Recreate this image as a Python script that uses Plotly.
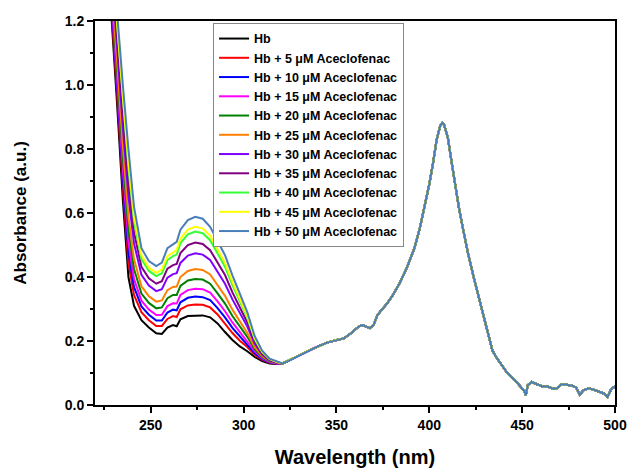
import plotly.graph_objects as go

# Wavelength grid (nm) for the region where the curves differ
wl_front = [222, 226, 229, 232, 235, 238, 241, 245, 249, 253, 256, 259, 262, 264,
            266, 270, 274, 278, 282, 286, 290, 294, 298, 302, 306, 310, 314, 318]

hb      = [1.75, 1.45, 1.20, 0.93, 0.64, 0.40, 0.31, 0.265, 0.242, 0.224, 0.222, 0.242, 0.25, 0.246,
           0.268, 0.278, 0.280, 0.280, 0.274, 0.255, 0.228, 0.203, 0.183, 0.168, 0.150, 0.137, 0.130, 0.128]
ace_5   = [1.772, 1.472, 1.224, 0.962, 0.680, 0.444, 0.344, 0.290, 0.265, 0.247, 0.247, 0.269, 0.278, 0.275,
           0.299, 0.311, 0.314, 0.313, 0.305, 0.283, 0.254, 0.225, 0.201, 0.181, 0.157, 0.141, 0.132, 0.129]
ace_10  = [1.788, 1.488, 1.242, 0.985, 0.708, 0.476, 0.369, 0.308, 0.282, 0.264, 0.264, 0.289, 0.298, 0.296,
           0.321, 0.335, 0.339, 0.337, 0.328, 0.303, 0.274, 0.241, 0.215, 0.191, 0.162, 0.143, 0.133, 0.129]
ace_15  = [1.804, 1.504, 1.259, 1.008, 0.737, 0.508, 0.394, 0.326, 0.298, 0.281, 0.282, 0.309, 0.318, 0.317,
           0.344, 0.359, 0.363, 0.362, 0.351, 0.324, 0.293, 0.258, 0.228, 0.201, 0.168, 0.146, 0.134, 0.130]
ace_20  = [1.824, 1.524, 1.281, 1.037, 0.773, 0.548, 0.425, 0.348, 0.319, 0.302, 0.305, 0.334, 0.344, 0.344,
           0.372, 0.389, 0.394, 0.392, 0.379, 0.349, 0.317, 0.278, 0.245, 0.213, 0.174, 0.149, 0.136, 0.131]
ace_25  = [1.844, 1.544, 1.303, 1.066, 0.809, 0.588, 0.456, 0.371, 0.340, 0.323, 0.327, 0.359, 0.369, 0.370,
           0.400, 0.419, 0.425, 0.422, 0.408, 0.375, 0.341, 0.298, 0.261, 0.225, 0.181, 0.153, 0.137, 0.131]
ace_30  = [1.876, 1.576, 1.339, 1.113, 0.867, 0.652, 0.505, 0.407, 0.373, 0.356, 0.362, 0.398, 0.409, 0.412,
           0.444, 0.467, 0.474, 0.470, 0.453, 0.416, 0.379, 0.330, 0.288, 0.245, 0.191, 0.158, 0.139, 0.132]
ace_35  = [1.898, 1.598, 1.363, 1.145, 0.906, 0.696, 0.539, 0.432, 0.396, 0.379, 0.387, 0.426, 0.437, 0.441,
           0.475, 0.500, 0.508, 0.503, 0.484, 0.444, 0.406, 0.352, 0.307, 0.258, 0.198, 0.161, 0.141, 0.133]
ace_40  = [1.920, 1.620, 1.387, 1.177, 0.946, 0.740, 0.574, 0.456, 0.419, 0.403, 0.412, 0.453, 0.465, 0.470,
           0.506, 0.533, 0.542, 0.537, 0.515, 0.472, 0.432, 0.375, 0.325, 0.272, 0.205, 0.165, 0.143, 0.134]
ace_45  = [1.930, 1.630, 1.398, 1.191, 0.964, 0.760, 0.589, 0.468, 0.429, 0.413, 0.423, 0.465, 0.478, 0.484,
           0.520, 0.548, 0.557, 0.552, 0.529, 0.485, 0.444, 0.385, 0.333, 0.278, 0.209, 0.167, 0.144, 0.134]
ace_50  = [1.95, 1.65, 1.42, 1.22, 1.00, 0.80, 0.62, 0.49, 0.45, 0.434, 0.445, 0.49, 0.503, 0.51,
           0.548, 0.578, 0.588, 0.582, 0.557, 0.51, 0.468, 0.405, 0.35, 0.29, 0.215, 0.17, 0.145, 0.135]

# Region where all spectra overlap (Soret band and beyond)
wl_tail = [321, 325, 330, 335, 340, 345, 350, 354, 358, 362, 364, 366, 368, 370,
           372, 374, 377, 380, 384, 388, 392, 395, 398, 400, 402, 404, 406, 407,
           408, 410, 412, 414, 416, 418, 421, 424, 427, 430, 432, 434, 436, 439,
           442, 446, 449, 451, 452, 453, 455, 458, 461, 464, 467, 469, 471, 474,
           477, 479, 481, 483, 486, 489, 492, 494, 496, 498, 500]
abs_tail = [0.13, 0.14, 0.155, 0.17, 0.183, 0.195, 0.203, 0.208, 0.225, 0.245, 0.25, 0.246, 0.24, 0.25,
            0.28, 0.295, 0.315, 0.34, 0.38, 0.43, 0.49, 0.555, 0.63, 0.69, 0.755, 0.83, 0.875, 0.882,
            0.875, 0.835, 0.76, 0.68, 0.615, 0.555, 0.47, 0.397, 0.33, 0.265, 0.215, 0.17, 0.15, 0.125,
            0.10, 0.078, 0.06, 0.045, 0.03, 0.062, 0.072, 0.064, 0.058, 0.057, 0.05, 0.053, 0.065, 0.063,
            0.06, 0.055, 0.032, 0.046, 0.052, 0.047, 0.04, 0.036, 0.025, 0.05, 0.058]

names = ["Hb"] + [f"Hb + {c} μM Aceclofenac" for c in [5, 10, 15, 20, 25, 30, 35, 40, 45, 50]]
series = [hb, ace_5, ace_10, ace_15, ace_20, ace_25, ace_30, ace_35, ace_40, ace_45, ace_50]
colors = ["#000000", "#FF0000", "#0000FF", "#FF00FF", "#008000", "#FF8000",
          "#8000FF", "#800080", "#33FF33", "#FFFF00", "#4A7EBB"]

font_family = "Liberation Sans, Arial, sans-serif"

fig = go.Figure()
for name, vals, col in zip(names, series, colors):
    fig.add_trace(go.Scatter(x=wl_front + wl_tail, y=vals + abs_tail, mode="lines",
                             name=name, line=dict(color=col, width=2)))

axis_common = dict(showline=True, linecolor="black", linewidth=2, mirror=True,
                   ticks="outside", tickwidth=2, ticklen=6, tickcolor="black",
                   showgrid=False, zeroline=False, automargin=False,
                   tickfont=dict(family=font_family, size=14, color="black", weight="bold"))

fig.update_xaxes(range=[220, 500], dtick=50, tick0=250,
                 minor=dict(ticks="outside", ticklen=3, tickwidth=2, tickcolor="black", dtick=25, tick0=225),
                 title=dict(text="Wavelength (nm)", standoff=18,
                            font=dict(family=font_family, size=20, color="black", weight="bold")),
                 **axis_common)
fig.update_yaxes(range=[0, 1.2], dtick=0.2, tickformat=".1f",
                 minor=dict(ticks="outside", ticklen=3, tickwidth=2, tickcolor="black", dtick=0.1),
                 title=dict(text="Absorbance (a.u.)", standoff=34,
                            font=dict(family=font_family, size=17, color="black", weight="bold")),
                 **axis_common)

fig.update_layout(
    width=629, height=469,
    margin=dict(l=95, r=14, t=21, b=64),
    plot_bgcolor="white", paper_bgcolor="white",
    showlegend=True,
    legend=dict(x=0.227, y=0.995, xanchor="left", yanchor="top",
                bgcolor="white", bordercolor="#888888", borderwidth=1,
                font=dict(family=font_family, size=12.5, color="black", weight="bold"),
                tracegroupgap=0, itemwidth=30),
)

fig.write_html("out.html")
